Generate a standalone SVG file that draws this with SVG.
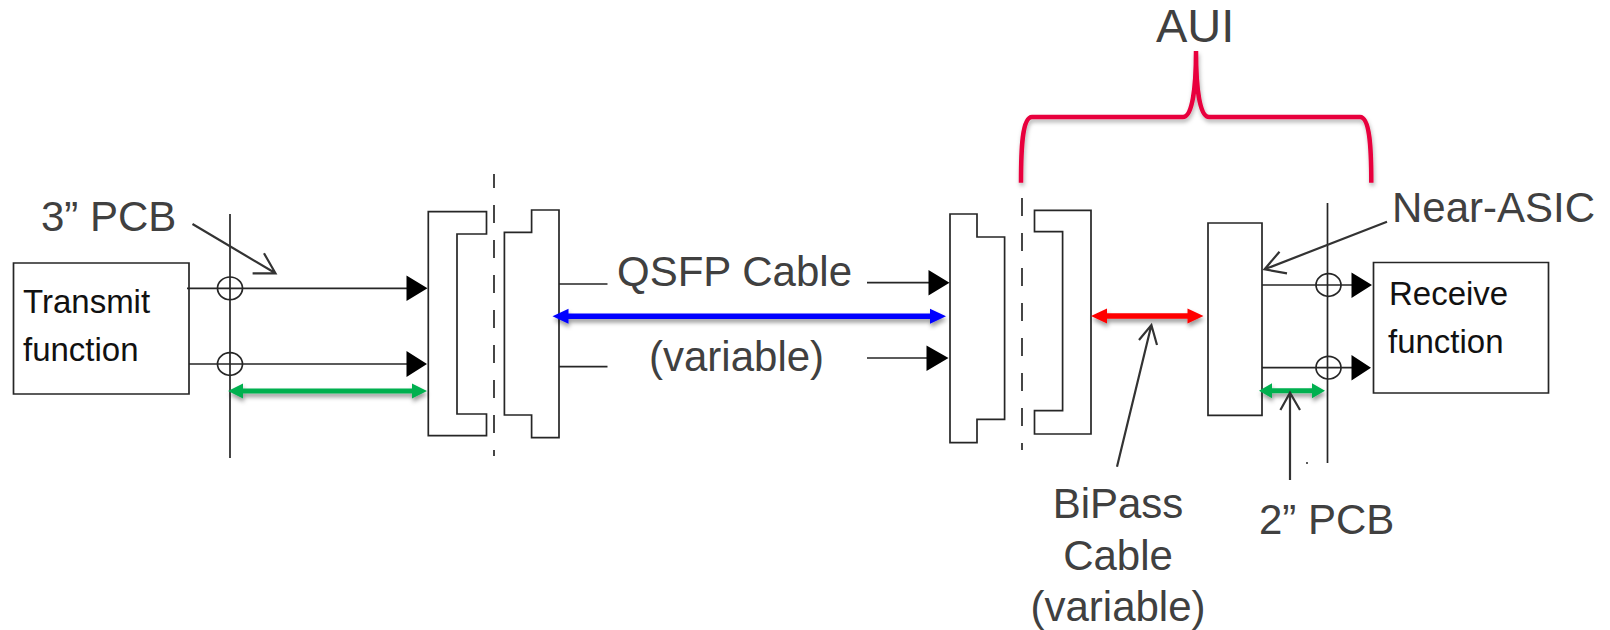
<svg xmlns="http://www.w3.org/2000/svg" width="1610" height="630" viewBox="0 0 1610 630">
<defs>
<style>
.l{fill:none;stroke:#262626;stroke-width:1.7}
.d{fill:none;stroke:#262626;stroke-width:1.7;stroke-dasharray:18 17}
.a{fill:none;stroke:#333;stroke-width:2.2}
.h{fill:#000}
.t{font-family:"Liberation Sans",Arial,sans-serif;font-size:42px;fill:#404040}
.s{font-family:"Liberation Sans",Arial,sans-serif;font-size:33px;fill:#111}
</style>
<filter id="sh" x="-10%" y="-100%" width="120%" height="300%"><feDropShadow dx="1" dy="3.500" stdDeviation="2" flood-color="#000" flood-opacity=".4"/></filter>
<filter id="sb" x="-5%" y="-5%" width="110%" height="115%"><feDropShadow dx="1" dy="3" stdDeviation="2" flood-color="#000" flood-opacity=".3"/></filter>
</defs>
<rect width="1610" height="630" fill="#fff"/>
<g id="transmit"><path class="l" d="M13.5 263H189V394H13.5Z"/><text class="s" x="23" y="313">Transmit</text><text class="s" x="23" y="361">function</text></g>
<g id="receive"><path class="l" d="M1373.5 262.500H1548.500V393H1373.500Z"/><text class="s" x="1389" y="305">Receive</text><text class="s" x="1388" y="353">function</text></g>
<g id="near-asic-box"><path class="l" d="M1208 223H1262V415.300H1208Z"/></g>
<g id="conn-left-a"><path class="l" d="M486.500 211.700H428.300V435.700H486.500V414H457V234H486.500Z"/></g>
<g id="conn-left-b"><path class="l" d="M559 210H531.600V232.300H504.400V415H531.600V437.700H559Z"/></g>
<g id="conn-right-a"><path class="l" d="M950 214H977V237H1004.600V419.300H977V442.700H950Z"/></g>
<g id="conn-right-b"><path class="l" d="M1034.500 210.300H1091V434H1034.500V410.700H1062.600V231.700H1034.500Z"/></g>
<g id="connectors">
<path class="l" d="M230 214V458M1327.500 203V463"/>
<path class="d" stroke-dashoffset="4" d="M494 174V456"/>
<path class="d" d="M1022 198V450"/>
<ellipse class="l" cx="230" cy="288.300" rx="12.500" ry="11.300"/>
<ellipse class="l" cx="230" cy="364" rx="12.500" ry="11.300"/>
<ellipse class="l" cx="1328.500" cy="285" rx="12.500" ry="11.300"/>
<ellipse class="l" cx="1328.500" cy="367.700" rx="12.500" ry="11.300"/>
<path class="l" d="M187 288.300H410M189 364H410M559 284H607.500M559 366.700H607.500M867 282.700H932M867 358H930M1262 285H1354M1262 367.700H1354"/>
<path class="h" d="M406.500 275.500L427.500 288.300L406.500 301ZM406.500 351L427 364L406.500 377ZM928.500 270L949.500 282.700L928.500 295.500ZM926.500 345.500L948.500 358L926.500 371ZM1351.500 272.500L1372 285L1351.500 298ZM1351.500 355L1371 367.700L1351.500 380.500Z"/>
<g filter="url(#sh)" fill="#00b050"><path d="M228 391L243 383.500V388.500H412V383.500L427 391L412 398.500V393.500H243V398.500Z"/><path d="M1259 390.700L1272 383.200V388.200H1312V383.200L1325 390.700L1312 398.200V393.200H1272V398.200Z"/></g>
<path filter="url(#sh)" fill="#0000ff" d="M552.500 316.300L568.500 308.800V313.500H930V308.800L946 316.300L930 323.800V319.100H568.500V323.800Z"/>
<path filter="url(#sh)" fill="#ff0000" d="M1091 316L1107 308.500V313.200H1187.500V308.500L1203.500 316L1187.500 323.500V318.800H1107V323.500Z"/>
<path filter="url(#sb)" fill="none" stroke="#e8003d" stroke-width="4.500" d="M1021 182.700C1021 150 1022 117 1032 117H1183C1192 117 1196 90 1196 51C1196 90 1200 117 1209 117H1360C1370 117 1371.300 150 1371.300 182.700"/>
<path class="a" d="M192.500 224L275.500 273.300M264 253.300L275.500 273.300L252.600 273.300"/>
<path class="a" d="M1387 221.700L1264.600 269.300M1279.500 251.700L1264.600 269.300L1287 273.300"/>
<path class="a" d="M1117 466.700L1151.400 325M1139 340L1151.400 325L1157 345"/>
<path class="a" d="M1290 480V392.700M1280.400 410L1290 392.700L1300 410"/>
<path class="l" d="M1306 463H1308"/>
</g>
<g id="labels">
<text class="t" x="41" y="231">3” PCB</text>
<text class="t" x="617" y="286">QSFP Cable</text>
<text class="t" x="649" y="371">(variable)</text>
<text class="t" x="1392" y="222">Near-ASIC</text>
<text class="t" x="1156" y="42" style="font-size:47px">AUI</text>
<text class="t" x="1118" y="518" text-anchor="middle">BiPass</text>
<text class="t" x="1118" y="570" text-anchor="middle">Cable</text>
<text class="t" x="1118" y="621" text-anchor="middle">(variable)</text>
<text class="t" x="1259" y="534">2” PCB</text>
</g>
</svg>
